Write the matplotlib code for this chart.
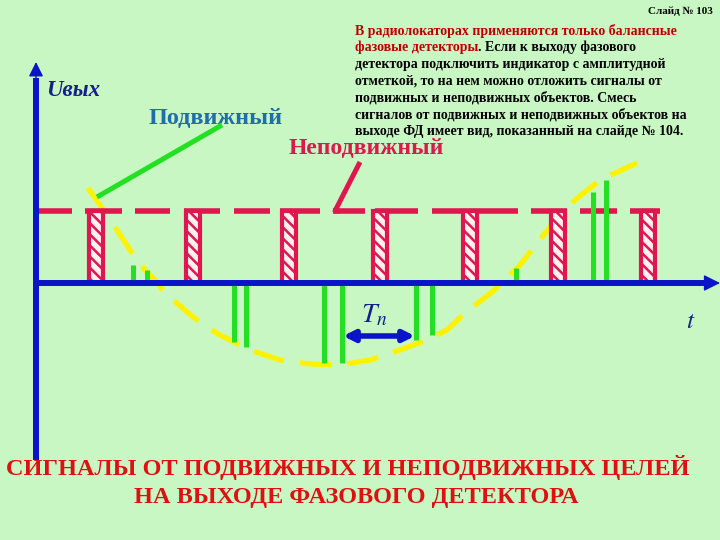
import matplotlib
matplotlib.use("Agg")
import matplotlib.pyplot as plt
from matplotlib.patches import Rectangle

# ---------------- data (x in px along time axis, amplitude in px above time axis) ---------------
fixed_t = [96, 193, 289, 380, 470, 558, 648]          # fixed-target pulses
fixed_amp = 72
dash_start = [35, 85, 135, 184, 234, 280, 333, 375, 432, 531, 580, 630]
dash_end = [72, 122, 170, 220, 270, 320, 365, 418, 518, 567, 617, 660]

moving_t = [133, 147, 234, 246, 324, 342, 416, 432, 516, 593, 606]   # moving-target pulses
moving_amp = [18, 13, -59, -64, -80, -80, -57, -52, 15, 91, 103]

env_t = [88, 100, 115, 130, 145, 155, 165, 193, 218, 250, 280, 310, 340, 370,
         400, 427, 447, 465, 492, 507, 520, 550, 575, 600, 637]
env_amp = [95, 78, 56, 33, 13, 3, -10, -34, -51, -67, -77, -81, -82, -77,
           -67, -57, -47, -30, -9, 5, 18, 56, 83, 103, 120]

para_lines = [
    "детектора подключить индикатор с амплитудной",
    "отметкой, то на нем можно отложить сигналы от",
    "подвижных и неподвижных объектов. Смесь",
    "сигналов от подвижных и неподвижных объектов на",
    "выходе ФД имеет вид, показанный на слайде № 104.",
]
para_red1 = "В радиолокаторах применяются только балансные"
para_red2 = "фазовые детекторы"
para_black2 = ". Если к выходу фазового"
title_lines = ["СИГНАЛЫ ОТ ПОДВИЖНЫХ И НЕПОДВИЖНЫХ ЦЕЛЕЙ",
               "НА ВЫХОДЕ ФАЗОВОГО ДЕТЕКТОРА"]

# ---------------- styles ----------------
BG = "#C9F7C3"
BLUE = "#0A14C8"
RED = "#E0174F"
GREEN = "#22E022"
YELLOW = "#FFF200"
DARKBLUE = "#14208C"
SERIF = ["Liberation Serif", "DejaVu Serif"]

plt.rcParams["hatch.linewidth"] = 1.8
plt.rcParams["mathtext.fontset"] = "stix"

fig = plt.figure(figsize=(7.2, 5.4), dpi=100, facecolor=BG)
ax = fig.add_axes([0, 0, 1, 1])
ax.set_facecolor(BG)
ax.set_xlim(0, 720)
ax.set_ylim(-257, 283)
ax.axis("off")

# envelope (yellow dashed)
ax.plot(env_t, env_amp, color=YELLOW, lw=3.8, dashes=(6, 3), solid_capstyle="butt",
        dash_capstyle="butt", zorder=2)

# fixed level dashes
for s, e in zip(dash_start, dash_end):
    ax.plot([s, e], [fixed_amp, fixed_amp], color=RED, lw=4, solid_capstyle="butt", zorder=3)

# fixed pulses (hatched pillars)
for t in fixed_t:
    ax.add_patch(Rectangle((t - 7, 0), 14, fixed_amp, facecolor="#FFF0F0",
                           edgecolor=RED, hatch="\\\\\\", lw=3, zorder=3))

# moving-target pulses
for t, a in zip(moving_t, moving_amp):
    ax.plot([t, t], [0, a], color=GREEN, lw=3.6, solid_capstyle="butt", zorder=4)

# axes
ax.plot([36, 36], [-177, 205], color=BLUE, lw=4.3, solid_capstyle="butt", zorder=5)
ax.annotate("", xy=(36, 221), xytext=(36, 200),
            arrowprops=dict(arrowstyle="-|>", color=BLUE, lw=1, mutation_scale=22,
                            shrinkA=0, shrinkB=0), zorder=5)
ax.plot([36, 704], [0, 0], color=BLUE, lw=4.3, solid_capstyle="butt", zorder=5)
ax.annotate("", xy=(720, 0), xytext=(698, 0),
            arrowprops=dict(arrowstyle="-|>", color=BLUE, lw=1, mutation_scale=25,
                            shrinkA=0, shrinkB=0), zorder=5)

# Tn double arrow
ax.annotate("", xy=(343, -53), xytext=(415, -53),
            arrowprops=dict(arrowstyle="<|-|>", color=BLUE, lw=4, mutation_scale=16,
                            shrinkA=0, shrinkB=0), zorder=5)
ax.text(361, -31, r"$T_n$", fontsize=20, color=DARKBLUE, ha="left", va="center")
ax.text(686, -38, r"$t$", fontsize=18, color=DARKBLUE, ha="left", va="center")

# pointers
ax.plot([97, 222], [86, 158], color=GREEN, lw=3.6, solid_capstyle="butt", zorder=4)
ax.plot([360, 335, 340], [121, 72, 72], color=RED, lw=3.6, solid_capstyle="butt", zorder=4)

# labels
ax.text(46, 193, "Uвых", fontsize=16.5, color=DARKBLUE, family=SERIF, style="italic",
        weight="bold", ha="left", va="center")
ax.text(149, 165, "Подвижный", fontsize=17.5, color="#1F6EA8", family=SERIF,
        weight="bold", ha="left", va="center")
ax.text(289, 135, "Неподвижный", fontsize=17, color="#D81B4B", family=SERIF,
        weight="bold", ha="left", va="center")

ax.text(713, 272, "Слайд № 103", fontsize=8, color="black", family=SERIF,
        weight="bold", ha="right", va="center")

y0 = 252
step = 16.7
ax.text(355, y0, para_red1, fontsize=10, color="#C00000", family=SERIF, weight="bold",
        ha="left", va="center")
t2 = ax.text(355, y0 - step, para_red2, fontsize=10, color="#C00000", family=SERIF,
             weight="bold", ha="left", va="center")
ax.annotate(para_black2, xy=(1, 0.5), xycoords=t2, fontsize=10, color="black",
            family=SERIF, weight="bold", ha="left", va="center")
for i, line in enumerate(para_lines):
    ax.text(355, y0 - step * (i + 2), line, fontsize=10, color="black", family=SERIF,
            weight="bold", ha="left", va="center")

ax.text(348, -184, title_lines[0], fontsize=17.5, color="#E01010", family=SERIF,
        weight="bold", ha="center", va="center")
ax.text(356, -215, title_lines[1], fontsize=17.5, color="#E01010", family=SERIF,
        weight="bold", ha="center", va="center")

fig.savefig("out.png", dpi=100, facecolor=BG)
